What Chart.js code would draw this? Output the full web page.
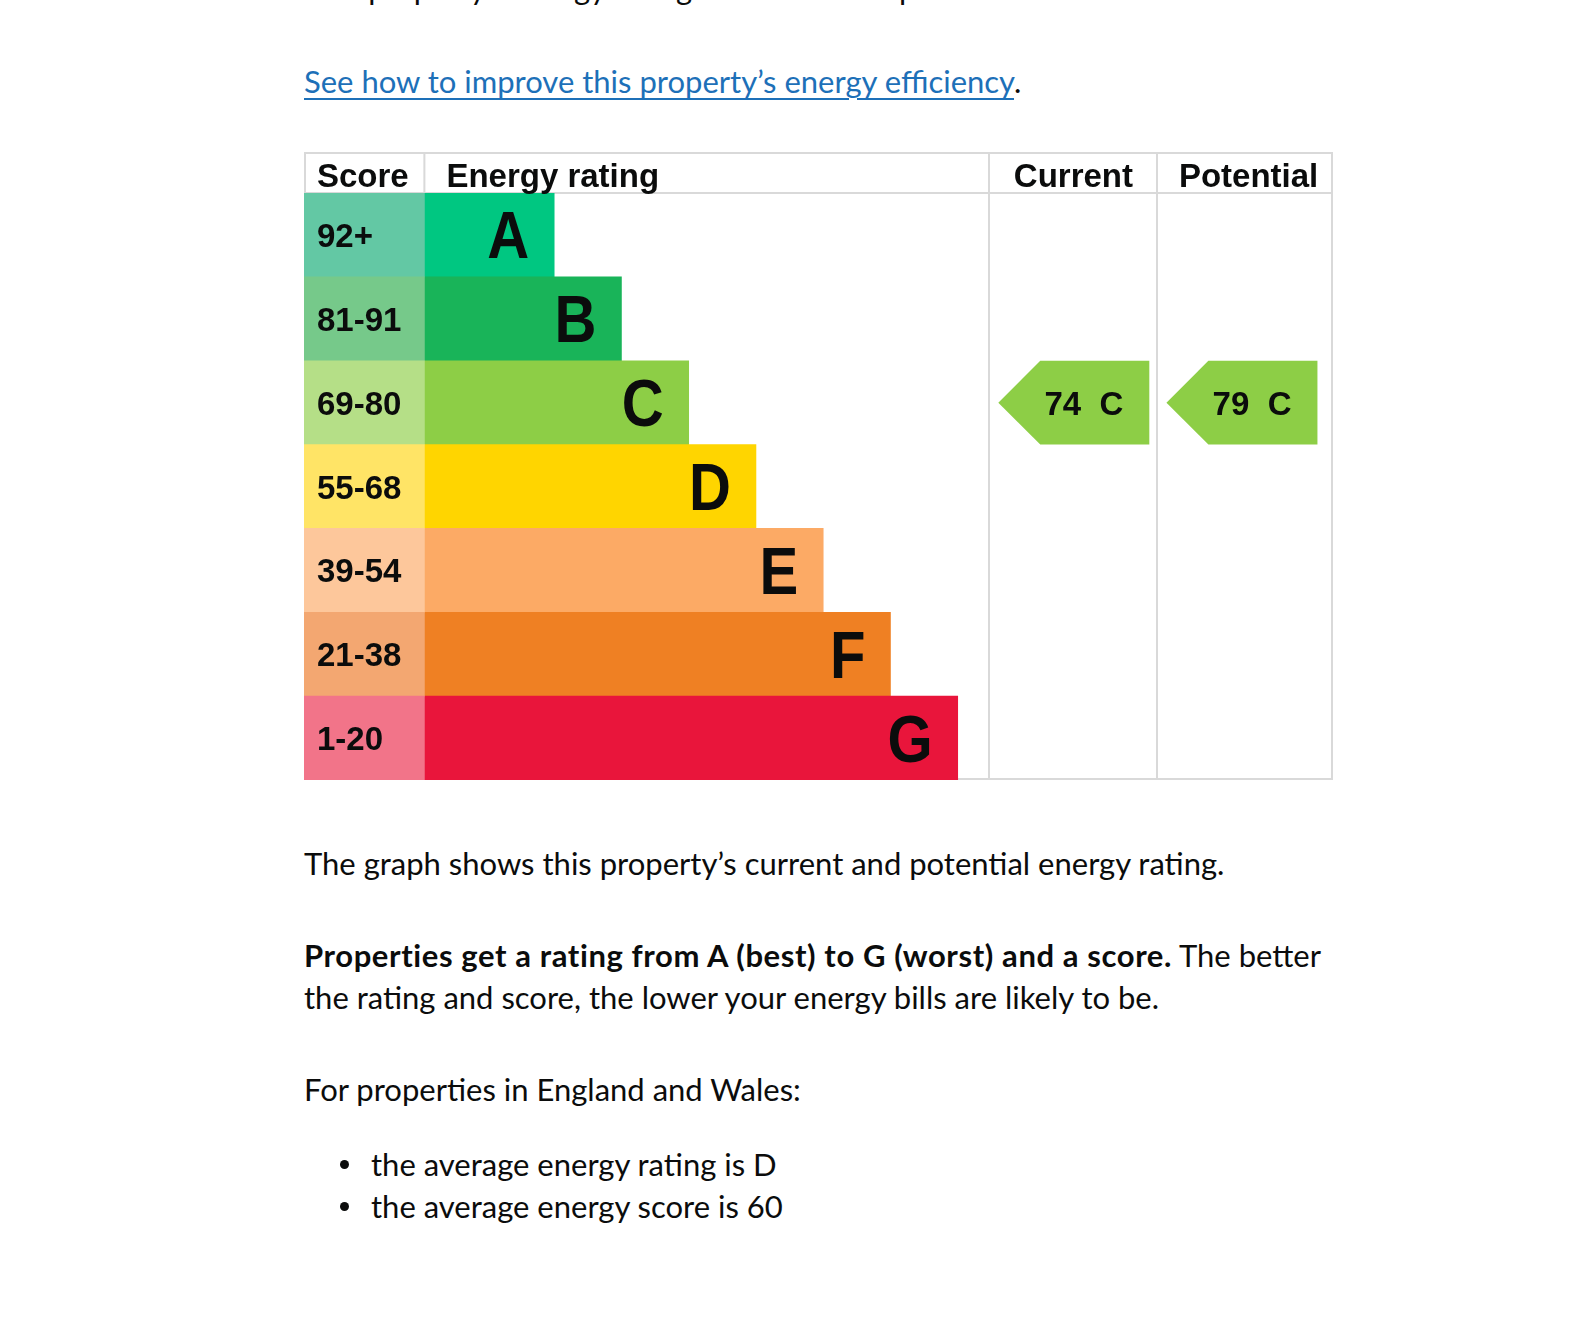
<!DOCTYPE html>
<html>
<head>
<meta charset="utf-8">
<script src="https://cdn.jsdelivr.net/npm/chart.js@4"></script>
<style>
  body { margin: 0; background: #fff; width: 1576px; height: 1320px; overflow: hidden; position: relative;
         font-family: Lato, "Noto Sans", sans-serif; color: #0b0c0c; }
  .t { position: absolute; left: 304px; margin: 0; font-size: 31px; line-height: 42px; white-space: nowrap; }
  .t b { letter-spacing: 0.6px; }
  .t a { color: #1d70b8; text-decoration: underline; text-decoration-thickness: 2px; text-underline-offset: 5px; }
  .li { left: 371px; }
  .dot { position: absolute; left: 340px; width: 9px; height: 9px; border-radius: 50%; background: #0b0c0c; }
  #wrap { position: absolute; left: 304px; top: 152px; width: 1029px; height: 628px; }
</style>
</head>
<body>
<p class="t" style="top:-33px">This property’s energy rating is C. It has the potential to be C.</p>
<p class="t" style="top:60px"><a href="#">See how to improve this property’s energy efficiency</a>.</p>

<div id="wrap"><canvas id="epc"></canvas></div>

<p class="t" style="top:842px">The graph shows this property’s current and potential energy rating.</p>
<p class="t" style="top:934px"><b>Properties get a rating from A (best) to G (worst) and a score.</b> The better<br>the rating and score, the lower your energy bills are likely to be.</p>
<p class="t" style="top:1068px">For properties in England and Wales:</p>
<span class="dot" style="top:1160px"></span>
<p class="t li" style="top:1143px">the average energy rating is D</p>
<span class="dot" style="top:1202px"></span>
<p class="t li" style="top:1185px">the average energy score is 60</p>

<script>
// bands, best to worst
var ratings = ['A', 'B', 'C', 'D', 'E', 'F', 'G'];
var scoreBands = ['92+', '81-91', '69-80', '55-68', '39-54', '21-38', '1-20'];
// length of each coloured bar, in band steps
var barLengths = [1.93, 2.93, 3.93, 4.93, 5.93, 6.93, 7.93];
var bandColours = ['#00c781', '#19b459', '#8dce46', '#ffd500', '#fcaa65', '#ef8023', '#e9153b'];
var scoreColours = ['#63c8a4', '#76c98a', '#b5df87', '#ffe466', '#fdc79b', '#f3a771', '#f27489'];

var currentScore = 74, currentRating = 'C';
var potentialScore = 79, potentialRating = 'C';

// table columns in band steps (one step ~ 67px)
var xMax = 15.3;
var scoreCol = 1.79;
var currentCol = [10.19, 12.69];
var potentialCol = [12.69, 15.28];

var lineColour = '#d9d9d9';
var textColour = '#0b0c0c';
var font = '"Liberation Sans", Arial, sans-serif';

var epcTable = {
    id: 'epcTable',
    beforeDatasetsDraw: function (chart) {
        var ctx = chart.ctx, area = chart.chartArea, x = chart.scales.x;
        var W = chart.width, H = chart.height;
        ctx.save();
        ctx.strokeStyle = lineColour;
        ctx.lineWidth = 2;
        ctx.beginPath();
        ctx.moveTo(0, 1); ctx.lineTo(W, 1);
        ctx.moveTo(0, area.top); ctx.lineTo(W, area.top);
        ctx.moveTo(0, H - 1); ctx.lineTo(W, H - 1);
        ctx.moveTo(1, 0); ctx.lineTo(1, H);
        var sx = x.getPixelForValue(scoreCol);
        ctx.moveTo(sx, 0); ctx.lineTo(sx, area.top);
        [currentCol[0], potentialCol[0], potentialCol[1]].forEach(function (v) {
            var px = Math.round(x.getPixelForValue(v));
            ctx.moveTo(px, 0); ctx.lineTo(px, H);
        });
        ctx.stroke();
        ctx.restore();
    },
    afterDatasetsDraw: function (chart) {
        var ctx = chart.ctx, area = chart.chartArea, x = chart.scales.x, y = chart.scales.y;
        var rowH = (area.bottom - area.top) / ratings.length;
        ctx.save();
        ctx.fillStyle = textColour;

        // header
        ctx.font = 'bold 33px ' + font;
        ctx.textBaseline = 'alphabetic';
        ctx.textAlign = 'left';
        ctx.fillText('Score', 13, area.top - 6);
        ctx.fillText('Energy rating', x.getPixelForValue(scoreCol) + 22, area.top - 6);
        ctx.textAlign = 'center';
        ctx.fillText('Current', (x.getPixelForValue(currentCol[0]) + x.getPixelForValue(currentCol[1])) / 2, area.top - 6);
        ctx.fillText('Potential', (x.getPixelForValue(potentialCol[0]) + x.getPixelForValue(potentialCol[1])) / 2 + 4, area.top - 6);

        // score bands and letters
        ratings.forEach(function (r, i) {
            var cy = y.getPixelForValue(i);
            ctx.font = 'bold 33px ' + font;
            ctx.textAlign = 'left';
            ctx.fillText(scoreBands[i], 13, cy + 12);

            var end = x.getPixelForValue(scoreCol + barLengths[i]);
            ctx.save();
            ctx.translate(end - 25, cy + 23.5);
            ctx.scale(0.88, 1);
            ctx.font = 'bold 66px ' + font;
            ctx.textAlign = 'right';
            ctx.fillText(r, 0, 0);
            ctx.restore();
        });

        // current / potential arrows
        function arrow(col, score, rating) {
            var i = ratings.indexOf(rating);
            var cy = y.getPixelForValue(i);
            var top = cy - rowH / 2, bottom = cy + rowH / 2;
            var tip = x.getPixelForValue(col[0]) + 9;
            var right = tip + 151;
            var slant = rowH / 2;
            ctx.fillStyle = bandColours[i];
            ctx.beginPath();
            ctx.moveTo(tip, cy);
            ctx.lineTo(tip + slant, top);
            ctx.lineTo(right, top);
            ctx.lineTo(right, bottom);
            ctx.lineTo(tip + slant, bottom);
            ctx.closePath();
            ctx.fill();
            ctx.fillStyle = textColour;
            ctx.font = 'bold 33px ' + font;
            ctx.textAlign = 'right';
            ctx.fillText(score + '  ' + rating, right - 26, cy + 12);
        }
        arrow(currentCol, currentScore, currentRating);
        arrow(potentialCol, potentialScore, potentialRating);
        ctx.restore();
    }
};

new Chart(document.getElementById('epc'), {
    type: 'bar',
    data: {
        labels: ratings,
        datasets: [{
            label: 'Score',
            data: ratings.map(function () { return scoreCol; }),
            backgroundColor: scoreColours
        }, {
            label: 'Energy rating',
            data: barLengths,
            backgroundColor: bandColours
        }]
    },
    options: {
        indexAxis: 'y',
        responsive: true,
        maintainAspectRatio: false,
        animation: false,
        layout: { padding: { top: 41, left: 0, right: 0, bottom: 0 } },
        datasets: { bar: { barPercentage: 1, categoryPercentage: 1, borderWidth: 0 } },
        scales: {
            x: { stacked: true, display: false, min: 0, max: xMax },
            y: { stacked: true, display: false }
        },
        plugins: { legend: { display: false }, tooltip: { enabled: false } }
    },
    plugins: [epcTable]
});
</script>
</body>
</html>
